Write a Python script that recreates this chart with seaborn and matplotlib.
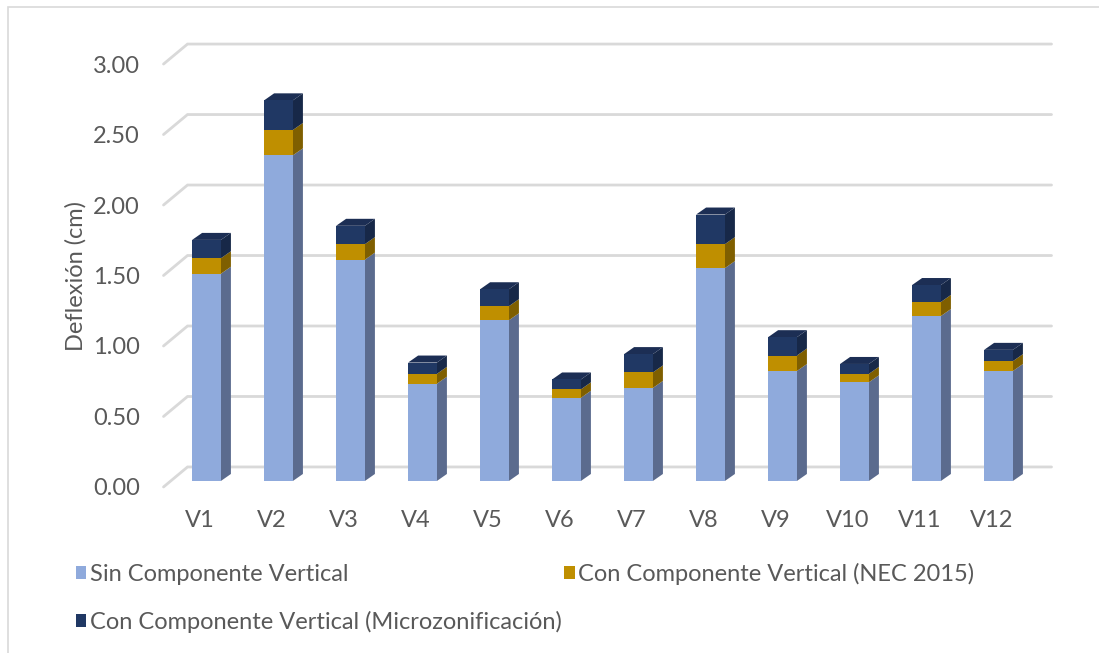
import numpy as np
import pandas as pd
import seaborn as sns
import matplotlib
matplotlib.use("Agg")
import matplotlib.pyplot as plt
from matplotlib.patches import Polygon, Rectangle, Patch
from matplotlib.transforms import ScaledTranslation

# ---------------- data ----------------
vigas = ["V1", "V2", "V3", "V4", "V5", "V6", "V7", "V8", "V9", "V10", "V11", "V12"]
sin_componente = [1.47, 2.31, 1.57, 0.69, 1.14, 0.59, 0.66, 1.51, 0.78, 0.70, 1.17, 0.78]
nec_2015 = [0.11, 0.18, 0.11, 0.07, 0.10, 0.06, 0.11, 0.17, 0.11, 0.06, 0.10, 0.07]
microzonificacion = [0.13, 0.21, 0.13, 0.08, 0.12, 0.07, 0.13, 0.21, 0.13, 0.07, 0.12, 0.08]
series_names = ["Sin Componente Vertical",
                "Con Componente Vertical (NEC 2015)",
                "Con Componente Vertical (Microzonificación)"]
y_ticks = [0.0, 0.5, 1.0, 1.5, 2.0, 2.5, 3.0]
y_label = "Deflexión (cm)"

# ---------------- style ----------------
front_colors = ["#8FAADC", "#BF8F00", "#203864"]
side_colors = ["#5B6B8E", "#7F5F00", "#172848"]
top_color = "#1C2E54"
grid_color = "#D9D9D9"
text_color = "#595959"
FS = 17

sns.set_theme(style="white")
plt.rcParams["font.family"] = ["Lato", "DejaVu Sans"]

W, H = 1099, 653
fig = plt.figure(figsize=(W / 100, H / 100), dpi=100)
ax = fig.add_axes([150 / W, 1 - 500 / H, 910 / W, 470 / H])

df = pd.DataFrame({"viga": vigas, "sin": sin_componente,
                   "nec": nec_2015, "micro": microzonificacion})
df["c1"] = df["sin"]
df["c2"] = df["c1"] + df["nec"]
df["c3"] = df["c2"] + df["micro"]

BAR_W = 0.4
for col, color in [("c3", front_colors[2]), ("c2", front_colors[1]), ("c1", front_colors[0])]:
    sns.barplot(data=df, x="viga", y=col, color=color, width=BAR_W, saturation=1,
                errorbar=None, ax=ax, zorder=3, linewidth=0)

ax.set_xlim(-0.785, 11.854)
ax.set_ylim(-0.135, 3.199)
for s in ax.spines.values():
    s.set_visible(False)
ax.set_xlabel("")


def shift(x, y, dxp, dyp):
    X, Y = ax.transData.transform((x, y))
    return tuple(ax.transData.inverted().transform((X + dxp, Y + dyp)))


# back-wall gridlines + floor diagonals
BACK = (17, 14)
FRONT = (-7, -6)
n = len(vigas)
for v in y_ticks:
    a = shift(-0.5, v, *FRONT)
    b = shift(-0.5, v, *BACK)
    c = shift(n - 0.5, v, *BACK)
    ax.plot([a[0], b[0], c[0]], [a[1], b[1], c[1]], color=grid_color, lw=2,
            zorder=1, solid_joinstyle="miter")

# 3D side and top faces of the bars
DX, DY = 10, 7
for i in range(n):
    x0, x1 = i - BAR_W / 2, i + BAR_W / 2
    bounds = [0, df["c1"][i], df["c2"][i], df["c3"][i]]
    for k in range(3):
        y0, y1 = bounds[k], bounds[k + 1]
        poly = [(x1, y0), shift(x1, y0, DX, DY), shift(x1, y1, DX, DY), (x1, y1)]
        ax.add_patch(Polygon(poly, closed=True, fc=side_colors[k], ec="none", zorder=2.5))
    T = bounds[-1]
    top = [(x0, T), (x1, T), shift(x1, T, DX, DY), shift(x0, T, DX, DY)]
    ax.add_patch(Polygon(top, closed=True, fc=top_color, ec="none", zorder=2.5))

# ticks
ax.set_yticks(y_ticks)
ax.set_yticklabels([f"{v:.2f}" for v in y_ticks])
ax.tick_params(axis="y", length=0, pad=7.2, labelsize=FS, labelcolor=text_color)
ax.tick_params(axis="x", length=0, pad=7, labelsize=FS, labelcolor=text_color)
for lab in ax.get_yticklabels():
    lab.set_transform(lab.get_transform() + ScaledTranslation(0, -6 / 100, fig.dpi_scale_trans))
for lab in ax.get_xticklabels():
    lab.set_transform(lab.get_transform() + ScaledTranslation(-7 / 100, 0, fig.dpi_scale_trans))

ax.set_ylabel(y_label, fontsize=FS, color=text_color, va="center")
ax.yaxis.set_label_coords((76 - 150) / 910, (500 - 276) / 470)

# legend (row-wise order)
handles = [Patch(fc=front_colors[0], ec="none"), Patch(fc=front_colors[2], ec="none"),
           Patch(fc=front_colors[1], ec="none")]
labels = [series_names[0], series_names[2], series_names[1]]
leg = fig.legend(handles, labels, ncol=2, loc="upper left",
                 bbox_to_anchor=(76 / W, 1 - 563 / H), frameon=False,
                 fontsize=FS, labelcolor=text_color, handlelength=0.44,
                 handleheight=0.44, handletextpad=0.15, columnspacing=0.1,
                 labelspacing=1.1, borderaxespad=0, borderpad=0)

# chart-area border
fig.add_artist(Rectangle((8 / W, -0.05), 1.2, (653 - 7) / H + 0.05,
                         transform=fig.transFigure, fill=False, ec=grid_color, lw=1.2))

fig.savefig("out.png", dpi=100)
